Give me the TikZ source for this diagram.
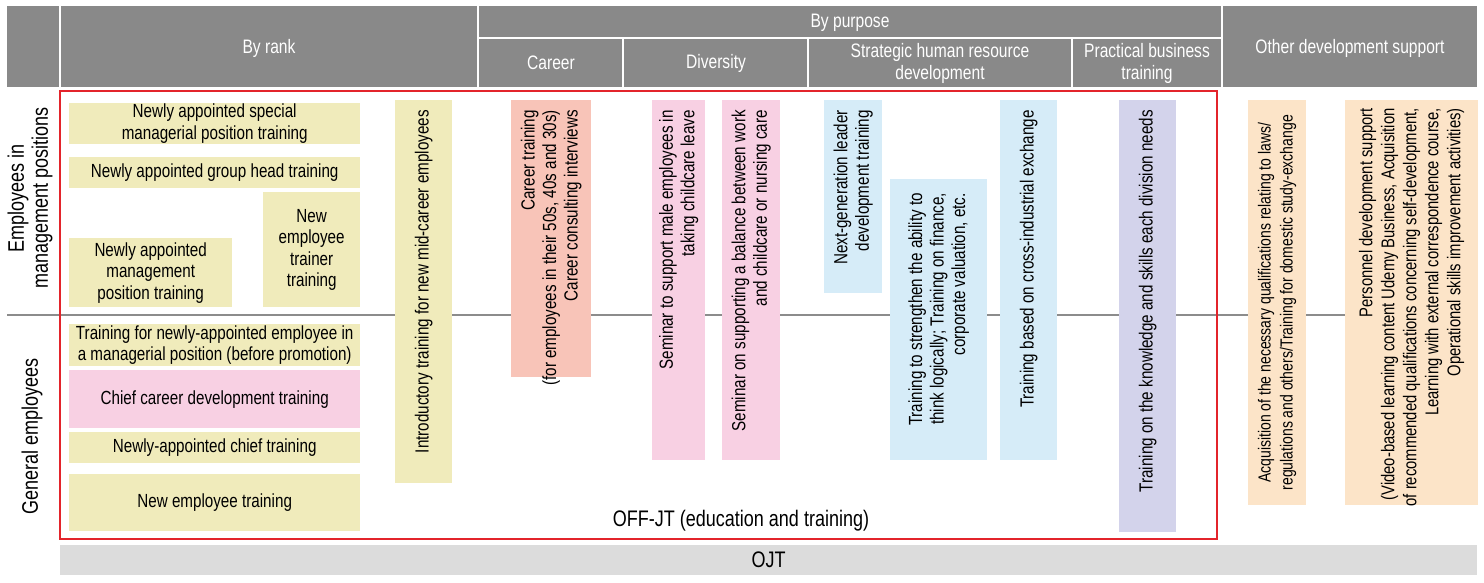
\documentclass[tikz,border=0pt]{standalone}
\usepackage{fontspec}
\setmainfont{Liberation Sans}[FakeStretch=0.80]
\definecolor{hdr}{HTML}{898989}
\definecolor{cy}{HTML}{F0EBBB}
\definecolor{cpk}{HTML}{F8D0E3}
\definecolor{csal}{HTML}{F8C4B8}
\definecolor{cbl}{HTML}{D6ECF8}
\definecolor{clav}{HTML}{D3D3EB}
\definecolor{cpch}{HTML}{FCE4C8}
\definecolor{cojt}{HTML}{DCDCDC}
\definecolor{cred}{HTML}{E3242B}
\definecolor{cline}{HTML}{8C8C8C}
\newcommand{\fs}{\fontsize{19}{21.5}\selectfont}
\newcommand{\fh}{\fontsize{19.5}{22}\selectfont}
\newcommand{\fb}{\fontsize{22.5}{24}\selectfont}
\tikzset{
  bx/.style={inner sep=0pt, anchor=north west, align=center, font=\fs, text=black},
  vt/.style={rotate=90, anchor=east, align=right, inner sep=0pt, font=\fs, text=black},
  ht/.style={align=center, font=\fh, text=white, inner sep=0pt},
  hl/.style={white, line width=1.2pt},
}
\begin{document}
\begin{tikzpicture}[x=1pt,y=-1pt]
\useasboundingbox (0,0) rectangle (1484,582);
% header
\fill[hdr] (7,6) rectangle (1477,87);
\draw[hl] (60,6) -- (60,87);
\draw[hl] (478,6) -- (478,87);
\draw[hl] (1222,6) -- (1222,87);
\draw[hl] (478,38) -- (1222,38);
\draw[hl] (623,38) -- (623,87);
\draw[hl] (808,38) -- (808,87);
\draw[hl] (1072,38) -- (1072,87);
\node[ht] (hrank) at (269,48) {By rank};
\node[ht] (hpur) at (850,23) {By purpose};
\node[ht] (hcar) at (551,63) {Career};
\node[ht] (hdiv) at (716,63) {Diversity};
\node[ht] (hstr) at (940,63) {Strategic human resource\\development};
\node[ht] (hpra) at (1147,63) {Practical business\\training};
\node[ht] (hoth) at (1350,48) {Other development support};
% separator
\draw[cline, line width=1.2pt] (7,315) -- (1477,315);
% row labels
\node[rotate=90, align=center, font=\fb, inner sep=0pt] (r1) at (30,198) {Employees in\\management positions};
\node[rotate=90, align=center, font=\fb, inner sep=0pt] (r2) at (32,436) {General employees};
% left boxes
\node[bx, fill=cy, minimum width=291pt, minimum height=41pt] (n1) at (69,103) {Newly appointed special\\managerial position training};
\node[bx, fill=cy, minimum width=291pt, minimum height=31pt] (n2) at (69,157) {Newly appointed group head training};
\node[bx, fill=cy, minimum width=97pt, minimum height=115pt] (n3) at (263,192) {New\\employee\\trainer\\training};
\node[bx, fill=cy, minimum width=163pt, minimum height=69pt] (n4) at (69,238) {Newly appointed\\management\\position training};
\node[bx, fill=cy, minimum width=291pt, minimum height=42pt] (n5) at (69,324) {Training for newly-appointed employee in\\a managerial position (before promotion)};
\node[bx, fill=cpk, minimum width=291pt, minimum height=58pt] (n6) at (69,370) {Chief career development training};
\node[bx, fill=cy, minimum width=291pt, minimum height=31pt] (n7) at (69,432) {Newly-appointed chief training};
\node[bx, fill=cy, minimum width=291pt, minimum height=57pt] (n8) at (69,474) {New employee training};
% vertical boxes
\node[bx, fill=cy, minimum width=57pt, minimum height=383pt] (v1) at (395,100) {};
\node[vt] (t1) at ([yshift=-10pt]v1.north) {Introductory training for new mid-career employees};
\node[bx, fill=csal, minimum width=80pt, minimum height=277pt] (v2) at (511,100) {};
\node[vt] (t2) at ([yshift=-10pt]v2.north) {Career training\\(for employees in their 50s, 40s and 30s)\\Career consulting interviews};
\node[bx, fill=cpk, minimum width=53pt, minimum height=360pt] (v3) at (652,100) {};
\node[vt] (t3) at ([yshift=-10pt]v3.north) {Seminar to support male employees in\\taking childcare leave};
\node[bx, fill=cpk, minimum width=58pt, minimum height=360pt] (v4) at (722,100) {};
\node[vt] (t4) at ([yshift=-10pt]v4.north) {Seminar on supporting a balance between work\\and childcare or nursing care};
\node[bx, fill=cbl, minimum width=58pt, minimum height=193pt] (v5) at (824,100) {};
\node[vt] (t5) at ([yshift=-10pt]v5.north) {Next-generation leader\\development training};
\node[bx, fill=cbl, minimum width=97pt, minimum height=281pt] (v6) at (890,179) {};
\node[vt] (t6) at ([yshift=-14pt]v6.north) {Training to strengthen the ability to\\think logically; Training on finance,\\corporate valuation, etc.};
\node[bx, fill=cbl, minimum width=57pt, minimum height=360pt] (v7) at (1000,100) {};
\node[vt] (t7) at ([yshift=-10pt]v7.north) {Training based on cross-industrial exchange};
\node[bx, fill=clav, minimum width=57pt, minimum height=432pt] (v8) at (1119,100) {};
\node[vt] (t8) at ([yshift=-10pt]v8.north) {Training on the knowledge and skills each division needs};
\node[bx, fill=cpch, minimum width=58pt, minimum height=405pt] (v9) at (1248,100) {};
\node[vt, anchor=center, align=center, font=\fontsize{17.5}{22}\selectfont] (t9) at (v9.center) {Acquisition of the necessary qualifications relating to laws/\\regulations and others/Training for domestic study-exchange};
\node[bx, fill=cpch, minimum width=133pt, minimum height=405pt] (v10) at (1345,100) {};
\node[vt, font=\fontsize{18.5}{22}\selectfont] (t10) at ([yshift=-8pt]v10.north) {Personnel development support\\(Video-based learning content Udemy Business, Acquisition\\of recommended qualifications concerning self-development,\\Learning with external correspondence course,\\Operational skills improvement activities)};
% OFF-JT frame
\draw[cred, line width=1.5pt] (60,91) rectangle (1217,539);
\node[font=\fb, inner sep=0pt] (offjt) at (741,521) {OFF-JT (education and training)};
% OJT
\node[bx, fill=cojt, minimum width=1417pt, minimum height=30pt] (ojtbar) at (60,545) {};
\node[font=\fb, inner sep=0pt] (ojt) at (ojtbar.center) {OJT};
\end{tikzpicture}
\end{document}
